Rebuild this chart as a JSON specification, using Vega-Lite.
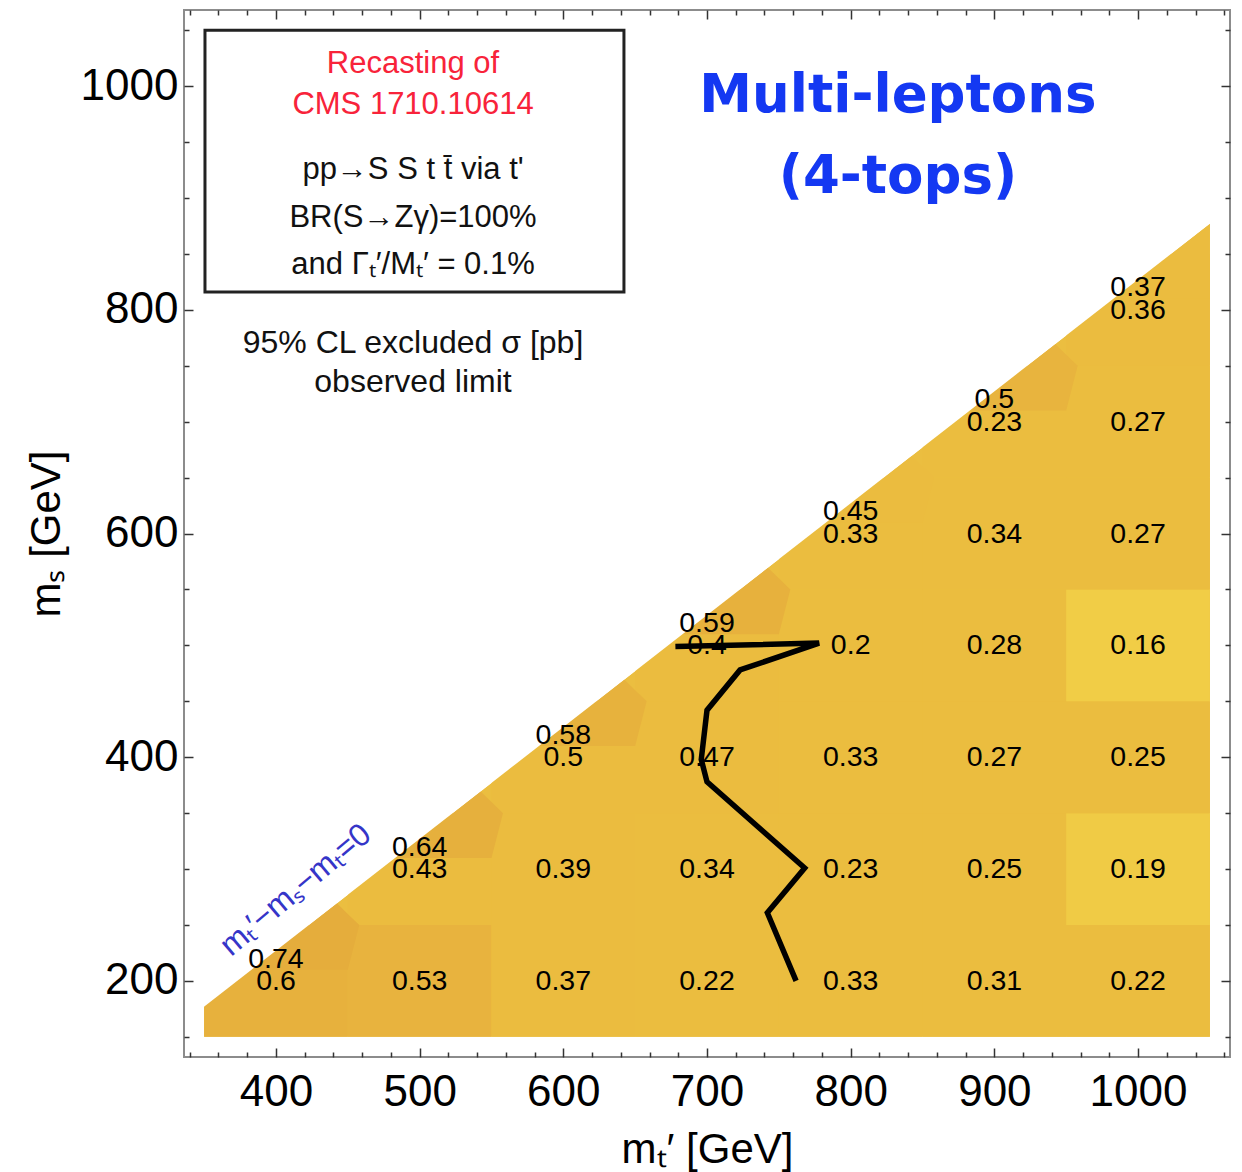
{
  "$schema": "https://vega.github.io/schema/vega-lite/v6.json",
  "width": 1046,
  "height": 1047,
  "autosize": {"type": "none"},
  "padding": {"left": 184, "top": 10, "right": 12, "bottom": 115},
  "background": "white",
  "config": {"view": {"stroke": "#8c8c8c", "strokeWidth": 2}, "font": "Liberation Sans"},
  "datasets": {
    "base": [{"mt": 350, "lo": 150, "hi": 177}, {"mt": 1050, "lo": 150, "hi": 877}],
    "mask": [{"mt": 345, "lo": 172, "hi": 900}, {"mt": 1055, "lo": 882, "hi": 900}],
    "grid": [
      {"mt": 400, "ms": 200, "sigma": 0.6},
      {"mt": 500, "ms": 200, "sigma": 0.53}, {"mt": 500, "ms": 300, "sigma": 0.43},
      {"mt": 600, "ms": 200, "sigma": 0.37}, {"mt": 600, "ms": 300, "sigma": 0.39}, {"mt": 600, "ms": 400, "sigma": 0.497},
      {"mt": 700, "ms": 200, "sigma": 0.22}, {"mt": 700, "ms": 300, "sigma": 0.34}, {"mt": 700, "ms": 400, "sigma": 0.47}, {"mt": 700, "ms": 500, "sigma": 0.4},
      {"mt": 800, "ms": 200, "sigma": 0.33}, {"mt": 800, "ms": 300, "sigma": 0.23}, {"mt": 800, "ms": 400, "sigma": 0.33}, {"mt": 800, "ms": 500, "sigma": 0.2}, {"mt": 800, "ms": 600, "sigma": 0.33},
      {"mt": 900, "ms": 200, "sigma": 0.31}, {"mt": 900, "ms": 300, "sigma": 0.25}, {"mt": 900, "ms": 400, "sigma": 0.27}, {"mt": 900, "ms": 500, "sigma": 0.28}, {"mt": 900, "ms": 600, "sigma": 0.34}, {"mt": 900, "ms": 700, "sigma": 0.23},
      {"mt": 1000, "ms": 200, "sigma": 0.22}, {"mt": 1000, "ms": 300, "sigma": 0.19}, {"mt": 1000, "ms": 400, "sigma": 0.25}, {"mt": 1000, "ms": 500, "sigma": 0.16}, {"mt": 1000, "ms": 600, "sigma": 0.27}, {"mt": 1000, "ms": 700, "sigma": 0.27}, {"mt": 1000, "ms": 800, "sigma": 0.36}
    ],
    "diag": [
      {"mt": 400, "ms": 220, "sigma": 0.74},
      {"mt": 500, "ms": 320, "sigma": 0.64},
      {"mt": 600, "ms": 420, "sigma": 0.58},
      {"mt": 700, "ms": 520, "sigma": 0.59},
      {"mt": 800, "ms": 620, "sigma": 0.45},
      {"mt": 900, "ms": 720, "sigma": 0.504},
      {"mt": 1000, "ms": 820, "sigma": 0.37}
    ],
    "patches": [
      {"id": "400/220", "sigma": 0.74, "mt": 383, "lo": 210, "hi": 210},
      {"id": "400/220", "sigma": 0.74, "mt": 442.4, "lo": 210, "hi": 269.4},
      {"id": "400/220", "sigma": 0.74, "mt": 450, "lo": 210, "hi": 259.9},
      {"id": "400/220", "sigma": 0.74, "mt": 458, "lo": 250, "hi": 250},
      {"id": "500/320", "sigma": 0.64, "mt": 483, "lo": 310, "hi": 310},
      {"id": "500/320", "sigma": 0.64, "mt": 542.4, "lo": 310, "hi": 369.4},
      {"id": "500/320", "sigma": 0.64, "mt": 550, "lo": 310, "hi": 359.9},
      {"id": "500/320", "sigma": 0.64, "mt": 558, "lo": 350, "hi": 350},
      {"id": "600/420", "sigma": 0.58, "mt": 583, "lo": 410, "hi": 410},
      {"id": "600/420", "sigma": 0.58, "mt": 642.4, "lo": 410, "hi": 469.4},
      {"id": "600/420", "sigma": 0.58, "mt": 650, "lo": 410, "hi": 459.9},
      {"id": "600/420", "sigma": 0.58, "mt": 658, "lo": 450, "hi": 450},
      {"id": "700/520", "sigma": 0.59, "mt": 683, "lo": 510, "hi": 510},
      {"id": "700/520", "sigma": 0.59, "mt": 742.4, "lo": 510, "hi": 569.4},
      {"id": "700/520", "sigma": 0.59, "mt": 750, "lo": 510, "hi": 559.9},
      {"id": "700/520", "sigma": 0.59, "mt": 758, "lo": 550, "hi": 550},
      {"id": "800/620", "sigma": 0.45, "mt": 783, "lo": 610, "hi": 610},
      {"id": "800/620", "sigma": 0.45, "mt": 842.4, "lo": 610, "hi": 669.4},
      {"id": "800/620", "sigma": 0.45, "mt": 850, "lo": 610, "hi": 659.9},
      {"id": "800/620", "sigma": 0.45, "mt": 858, "lo": 650, "hi": 650},
      {"id": "900/720", "sigma": 0.504, "mt": 883, "lo": 710, "hi": 710},
      {"id": "900/720", "sigma": 0.504, "mt": 942.4, "lo": 710, "hi": 769.4},
      {"id": "900/720", "sigma": 0.504, "mt": 950, "lo": 710, "hi": 759.9},
      {"id": "900/720", "sigma": 0.504, "mt": 958, "lo": 750, "hi": 750},
      {"id": "1000/820", "sigma": 0.37, "mt": 983, "lo": 810, "hi": 810},
      {"id": "1000/820", "sigma": 0.37, "mt": 1050, "lo": 810, "hi": 877}
    ],
    "contour": [
      {"ord": 1, "mt": 678, "ms": 499},
      {"ord": 2, "mt": 778, "ms": 502},
      {"ord": 3, "mt": 723, "ms": 478},
      {"ord": 4, "mt": 700, "ms": 442},
      {"ord": 5, "mt": 696, "ms": 398},
      {"ord": 6, "mt": 700, "ms": 378},
      {"ord": 7, "mt": 768, "ms": 301},
      {"ord": 8, "mt": 742, "ms": 261},
      {"ord": 9, "mt": 762, "ms": 200}
    ],
    "box": [{"mt_lo": 350.6, "mt_hi": 642.2, "ms_lo": 815.8, "ms_hi": 1050}],
    "red": [
      {"mt": 495.4, "ms": 1011.8, "label": "Recasting of"},
      {"mt": 495.4, "ms": 975, "label": "CMS 1710.10614"}
    ],
    "boxtext": [
      {"mt": 495.4, "ms": 916.6, "label": "pp→S S t t̄ via t'"},
      {"mt": 495.4, "ms": 874.2, "label": "BR(S→Zγ)=100%"},
      {"mt": 495.4, "ms": 831.9, "label": "and Γₜ′/Mₜ′ = 0.1%"}
    ],
    "cl": [
      {"mt": 495.4, "ms": 761, "label": "95% CL excluded σ [pb]"},
      {"mt": 495.4, "ms": 726.7, "label": "observed limit"}
    ],
    "blue": [
      {"mt": 832.9, "ms": 977, "label": "Multi-leptons"},
      {"mt": 832.9, "ms": 904.3, "label": "(4-tops)"}
    ],
    "diaglabel": [{"mt": 413.7, "ms": 281.5, "label": "mₜ′−mₛ−mₜ=0"}]
  },
  "layer": [
    {
      "data": {"name": "base"},
      "mark": {"type": "area", "color": "#EBBE40"},
      "encoding": {
        "x": {"field": "mt", "type": "quantitative", "scale": {"domain": [336, 1064], "nice": false, "zero": false},
          "axis": {"orient": "bottom", "values": [340,360,380,400,420,440,460,480,500,520,540,560,580,600,620,640,660,680,700,720,740,760,780,800,820,840,860,880,900,920,940,960,980,1000,1020,1040,1060],
            "format": "d", "labelExpr": "datum.value % 100 === 0 ? datum.label : ''", "labelFontSize": 44, "labelColor": "black", "labelPadding": 22, "labelOverlap": false, "labelFlush": false,
            "tickSize": {"condition": {"test": "datum.value % 100 === 0", "value": -9}, "value": -5}, "tickColor": "#333", "tickWidth": 1.5,
            "domain": false, "grid": false, "title": "mₜ′ [GeV]", "titleFontSize": 42, "titleFontWeight": "normal", "titleColor": "black", "titlePadding": 11, "zindex": 1}},
        "y": {"field": "lo", "type": "quantitative", "scale": {"domain": [132, 1068], "nice": false, "zero": false},
          "axis": {"orient": "left", "values": [150,200,250,300,350,400,450,500,550,600,650,700,750,800,850,900,950,1000,1050],
            "format": "d", "labelExpr": "datum.value % 200 === 0 ? datum.label : ''", "labelFontSize": 44, "labelColor": "black", "labelPadding": 15, "labelOverlap": false, "labelFlush": false,
            "tickSize": {"condition": {"test": "datum.value % 200 === 0", "value": -9}, "value": -5}, "tickColor": "#333", "tickWidth": 1.5,
            "domain": false, "grid": false, "title": "mₛ [GeV]", "titleFontSize": 42, "titleFontWeight": "normal", "titleColor": "black", "titlePadding": 12, "zindex": 1}},
        "y2": {"field": "hi"}
      }
    },
    {
      "data": {"name": "grid"},
      "transform": [
        {"calculate": "datum.mt - 50", "as": "mt_lo"},
        {"calculate": "datum.mt + 50", "as": "mt_hi"},
        {"calculate": "datum.ms - 50", "as": "ms_lo"},
        {"calculate": "datum.ms + 50", "as": "ms_hi"}
      ],
      "mark": {"type": "rect"},
      "encoding": {
        "x": {"field": "mt_lo", "type": "quantitative", "axis": null},
        "x2": {"field": "mt_hi"},
        "y": {"field": "ms_lo", "type": "quantitative", "axis": null},
        "y2": {"field": "ms_hi"},
        "color": {"field": "sigma", "type": "quantitative", "legend": null,
          "scale": {"type": "linear", "domain": [0.16, 0.19, 0.2, 0.5, 0.502, 0.74], "range": ["#F1CD46", "#F0CB45", "#EBBD3F", "#EBBC3F", "#E8B43E", "#E5AD3C"], "interpolate": "rgb"}}
      }
    },
    {
      "data": {"name": "patches"},
      "mark": {"type": "area"},
      "encoding": {
        "x": {"field": "mt", "type": "quantitative", "axis": null},
        "y": {"field": "lo", "type": "quantitative", "axis": null},
        "y2": {"field": "hi"},
        "detail": {"field": "id"},
        "color": {"field": "sigma", "type": "quantitative", "legend": null,
          "scale": {"type": "linear", "domain": [0.16, 0.19, 0.2, 0.5, 0.502, 0.74], "range": ["#F1CD46", "#F0CB45", "#EBBD3F", "#EBBC3F", "#E8B43E", "#E5AD3C"], "interpolate": "rgb"}}
      }
    },
    {
      "data": {"name": "mask"},
      "mark": {"type": "area", "color": "white"},
      "encoding": {
        "x": {"field": "mt", "type": "quantitative",
          "axis": {"orient": "top", "values": [340,360,380,400,420,440,460,480,500,520,540,560,580,600,620,640,660,680,700,720,740,760,780,800,820,840,860,880,900,920,940,960,980,1000,1020,1040,1060],
            "labels": false, "tickSize": {"condition": {"test": "datum.value % 100 === 0", "value": -9}, "value": -5}, "tickColor": "#333", "tickWidth": 1.5,
            "domain": false, "grid": false, "title": null, "zindex": 1}},
        "y": {"field": "lo", "type": "quantitative",
          "axis": {"orient": "right", "values": [150,200,250,300,350,400,450,500,550,600,650,700,750,800,850,900,950,1000,1050],
            "labels": false, "tickSize": {"condition": {"test": "datum.value % 200 === 0", "value": -9}, "value": -5}, "tickColor": "#333", "tickWidth": 1.5,
            "domain": false, "grid": false, "title": null, "zindex": 1}},
        "y2": {"field": "hi"}
      }
    },
    {
      "data": {"name": "grid"},
      "mark": {"type": "text", "fontSize": 28.5, "color": "black", "align": "center", "baseline": "middle"},
      "encoding": {
        "x": {"field": "mt", "type": "quantitative", "axis": null},
        "y": {"field": "ms", "type": "quantitative", "axis": null},
        "text": {"field": "sigma", "type": "quantitative", "format": ".2~f"}
      }
    },
    {
      "data": {"name": "diag"},
      "mark": {"type": "text", "fontSize": 28.5, "color": "black", "align": "center", "baseline": "middle"},
      "encoding": {
        "x": {"field": "mt", "type": "quantitative", "axis": null},
        "y": {"field": "ms", "type": "quantitative", "axis": null},
        "text": {"field": "sigma", "type": "quantitative", "format": ".2~f"}
      }
    },
    {
      "data": {"name": "contour"},
      "mark": {"type": "line", "color": "black", "strokeWidth": 5.5},
      "encoding": {
        "x": {"field": "mt", "type": "quantitative", "axis": null},
        "y": {"field": "ms", "type": "quantitative", "axis": null},
        "order": {"field": "ord", "type": "quantitative"}
      }
    },
    {
      "data": {"name": "box"},
      "mark": {"type": "rect", "fill": "white", "stroke": "#222", "strokeWidth": 3},
      "encoding": {
        "x": {"field": "mt_lo", "type": "quantitative", "axis": null},
        "x2": {"field": "mt_hi"},
        "y": {"field": "ms_lo", "type": "quantitative", "axis": null},
        "y2": {"field": "ms_hi"}
      }
    },
    {
      "data": {"name": "red"},
      "mark": {"type": "text", "fontSize": 31, "color": "#F8233A", "align": "center", "baseline": "alphabetic"},
      "encoding": {
        "x": {"field": "mt", "type": "quantitative", "axis": null},
        "y": {"field": "ms", "type": "quantitative", "axis": null},
        "text": {"field": "label"}
      }
    },
    {
      "data": {"name": "boxtext"},
      "mark": {"type": "text", "fontSize": 31, "color": "#111", "align": "center", "baseline": "alphabetic"},
      "encoding": {
        "x": {"field": "mt", "type": "quantitative", "axis": null},
        "y": {"field": "ms", "type": "quantitative", "axis": null},
        "text": {"field": "label"}
      }
    },
    {
      "data": {"name": "cl"},
      "mark": {"type": "text", "fontSize": 32, "color": "#111", "align": "center", "baseline": "alphabetic"},
      "encoding": {
        "x": {"field": "mt", "type": "quantitative", "axis": null},
        "y": {"field": "ms", "type": "quantitative", "axis": null},
        "text": {"field": "label"}
      }
    },
    {
      "data": {"name": "blue"},
      "mark": {"type": "text", "fontSize": 53, "font": "DejaVu Sans", "fontWeight": "bold", "color": "#1438F2", "align": "center", "baseline": "alphabetic"},
      "encoding": {
        "x": {"field": "mt", "type": "quantitative", "axis": null},
        "y": {"field": "ms", "type": "quantitative", "axis": null},
        "text": {"field": "label"}
      }
    },
    {
      "data": {"name": "diaglabel"},
      "mark": {"type": "text", "fontSize": 32, "color": "#3535C8", "align": "center", "baseline": "middle", "angle": -40},
      "encoding": {
        "x": {"field": "mt", "type": "quantitative", "axis": null},
        "y": {"field": "ms", "type": "quantitative", "axis": null},
        "text": {"field": "label"}
      }
    }
  ],
  "resolve": {"axis": {"x": "independent", "y": "independent"}}
}
